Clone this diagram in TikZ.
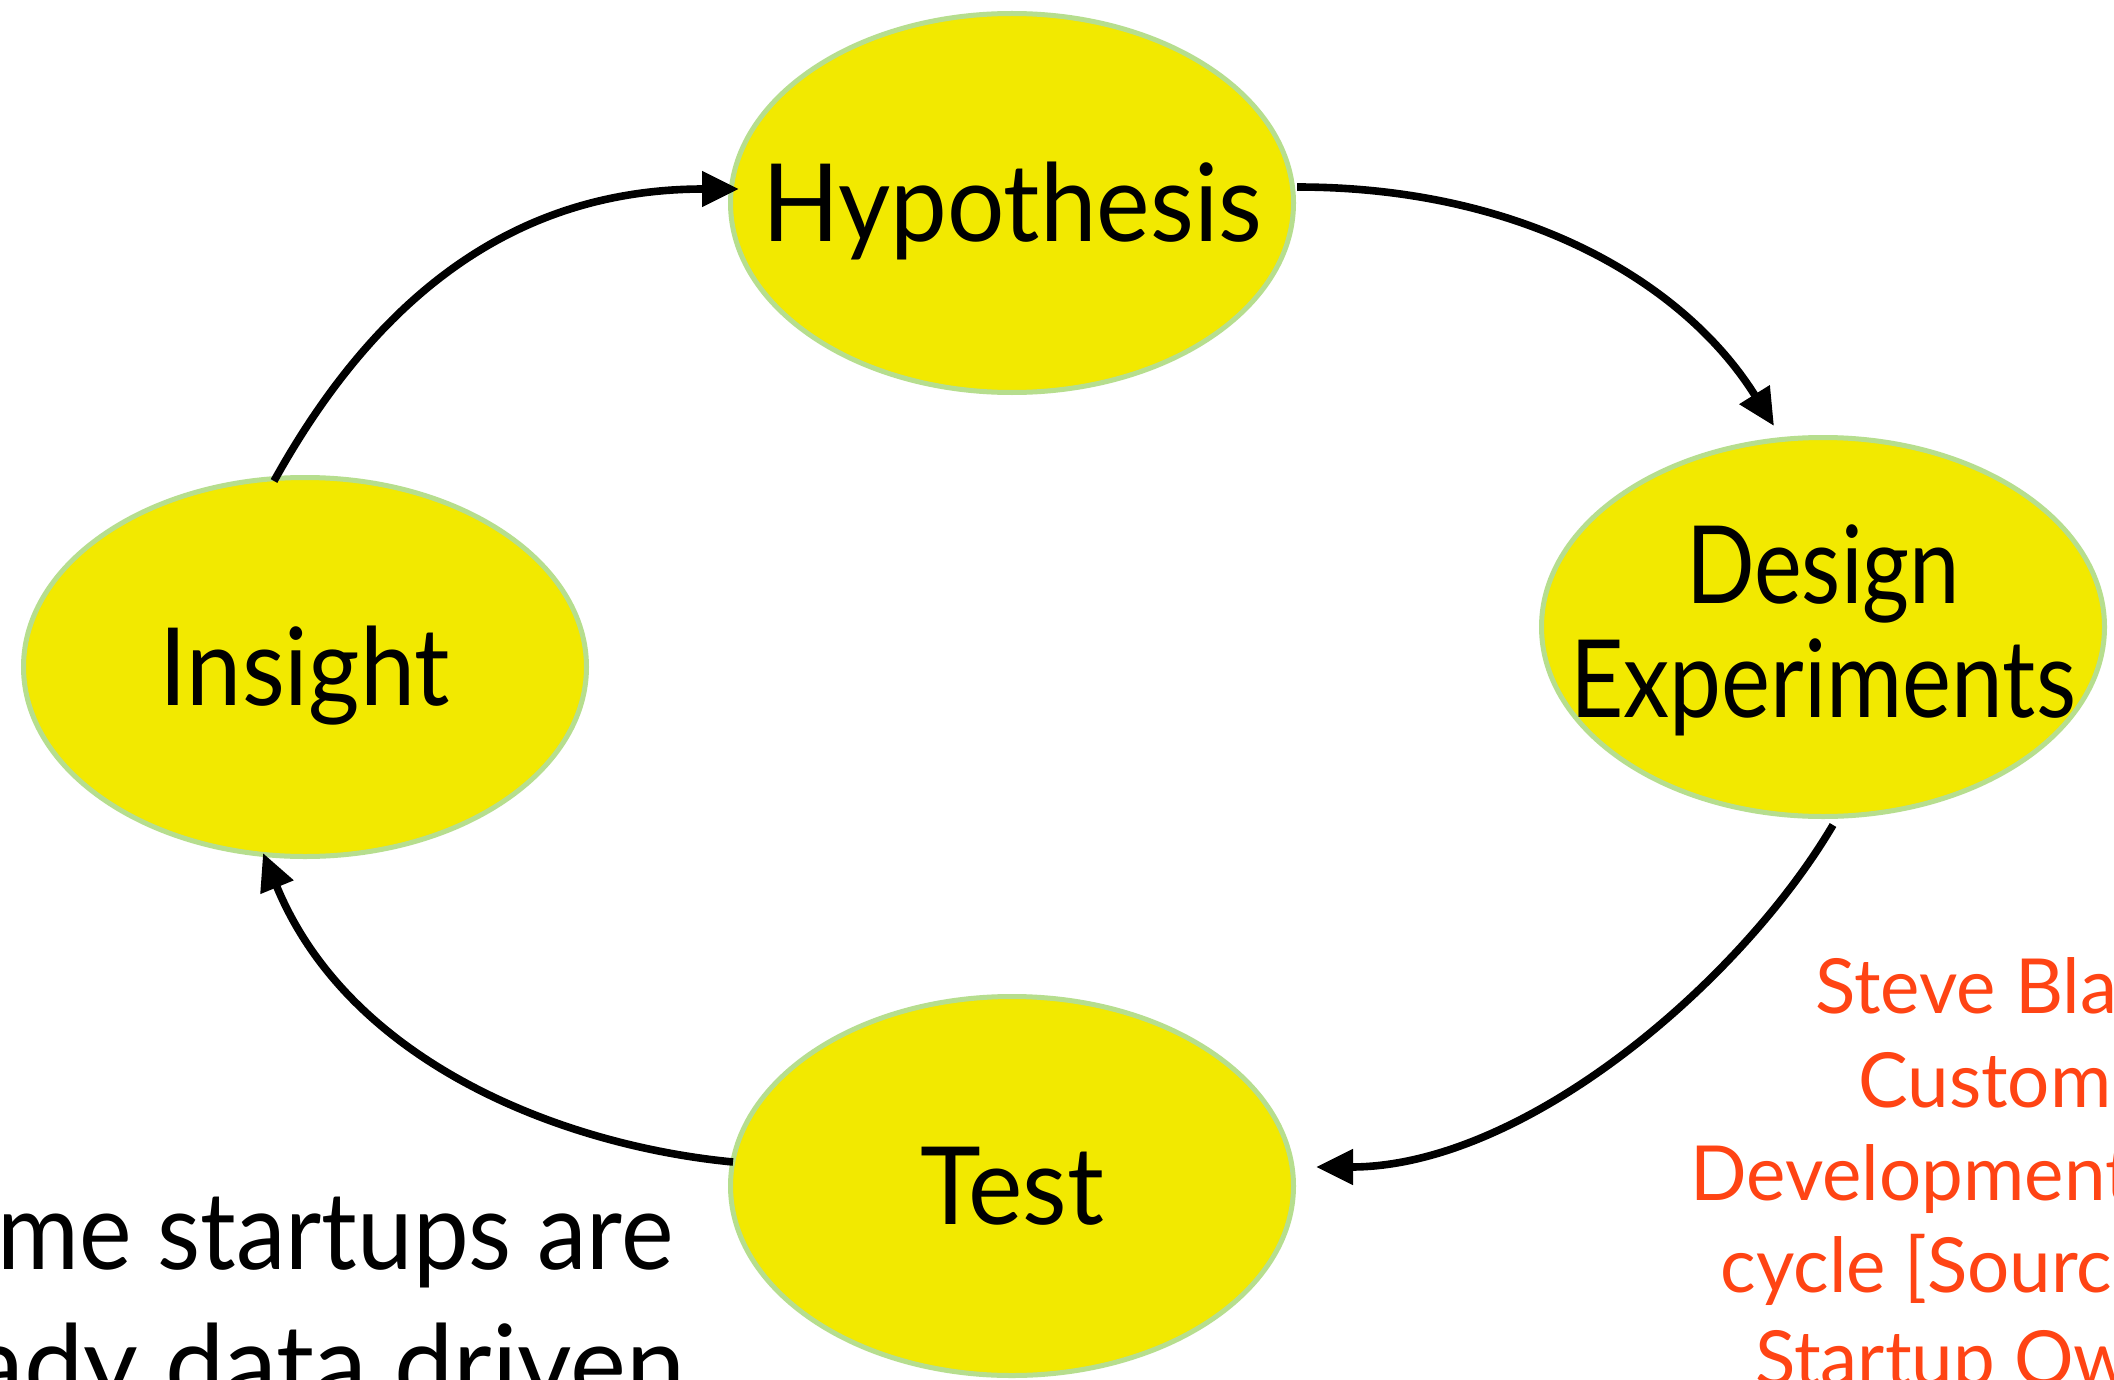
\documentclass[tikz,border=0pt]{standalone}
\usepackage{fontspec}
\usepackage{graphicx}
\setmainfont{Lato}
\usetikzlibrary{arrows.meta,shapes.geometric,calc}
\definecolor{ellfill}{RGB}{242,233,0}
\definecolor{ellline}{RGB}{182,222,142}
\definecolor{srcred}{RGB}{255,68,20}
\newcommand{\fitw}[2]{\resizebox{#1}{\height}{#2}}
\newcommand{\squeezeh}[2]{\scalebox{#1}[1]{#2}}
\begin{document}
\begin{tikzpicture}[x=0.5pt,y=-0.5pt,
  stage/.style={ellipse, draw=ellline, line width=2.5pt, fill=ellfill,
    minimum width=281.5pt, minimum height=189.5pt, inner sep=0pt, outer sep=0pt},
  stagetext/.style={font=\fontsize{54}{57}\selectfont, text height=38.7pt,
    text depth=0pt, inner sep=0pt},
  stageline/.style={font=\fontsize{54}{57}\selectfont, inner sep=0pt, anchor=base},
  flow/.style={line width=3.8pt, -{Triangle[length=18.5pt,width=17pt]}},
  note/.style={font=\fontsize{38}{46.5}\selectfont, text=srcred, inner sep=0pt, anchor=base west},
  remark/.style={font=\fontsize{54}{64}\selectfont, inner sep=0pt}
]
\useasboundingbox (0,0) rectangle (2114,1380);
\fill[white] (0,0) rectangle (2114,1380);
\clip (0,0) rectangle (2114,1380);

\node[stage] (hyp) at (1012,203) {};
\node[stage] (des) at (1823,627) {};
\node[stage] (ins) at (305,667) {};
\node[stage] (tst) at (1012,1186) {};

\node[stagetext] (hypT) at (hyp) {\fitw{250pt}{Hypothesis}};
\node[stageline] (desT1) at ($(des)+(0,-24)$) {\fitw{137pt}{Design}};
\node[stageline] (desT2) at ($(des)+(0,90)$) {\fitw{253pt}{Experiments}};
\node[stagetext] (insT) at (ins) {\fitw{145pt}{Insight}};
\node[stagetext] (tstT) at (tst) {\fitw{92pt}{Test}};

\draw[flow] ($(ins)+(-31,-186)$) .. controls (391,270) and (539,189) .. ($(hyp)+(-273,-14)$);
\draw[flow] ($(hyp)+(285,-16)$) .. controls (1524,187) and (1685,283) .. ($(des)+(-49,-201)$);
\draw[flow] ($(des)+(10,198)$) .. controls (1739,984) and (1523,1167) .. ($(tst)+(304,-19)$);
\draw[flow] ($(tst)+(-279,-24)$) .. controls (566,1146) and (350,1065) .. ($(ins)+(-42,186)$);

\node[note] (src1) at (1815,1013) {\squeezeh{0.98}{Steve Blank's}};
\node[note] (src2) at (1858,1107) {\squeezeh{0.98}{Customer}};
\node[note] (src3) at (1690,1200) {\squeezeh{0.98}{Development}};
\node[note] (src4) at (1720,1292) {\squeezeh{0.98}{cycle [Source:}};
\node[note] (src5) at (1755,1385) {\squeezeh{0.98}{Startup Owner's}};

\node[remark, anchor=base west] (rem1) at (-3,1269) {\fitw{338pt}{me startups are}};
\node[remark, anchor=base east] (rem2) at (686,1402) {\fitw{357pt}{ady data driven}};
\end{tikzpicture}
\end{document}
